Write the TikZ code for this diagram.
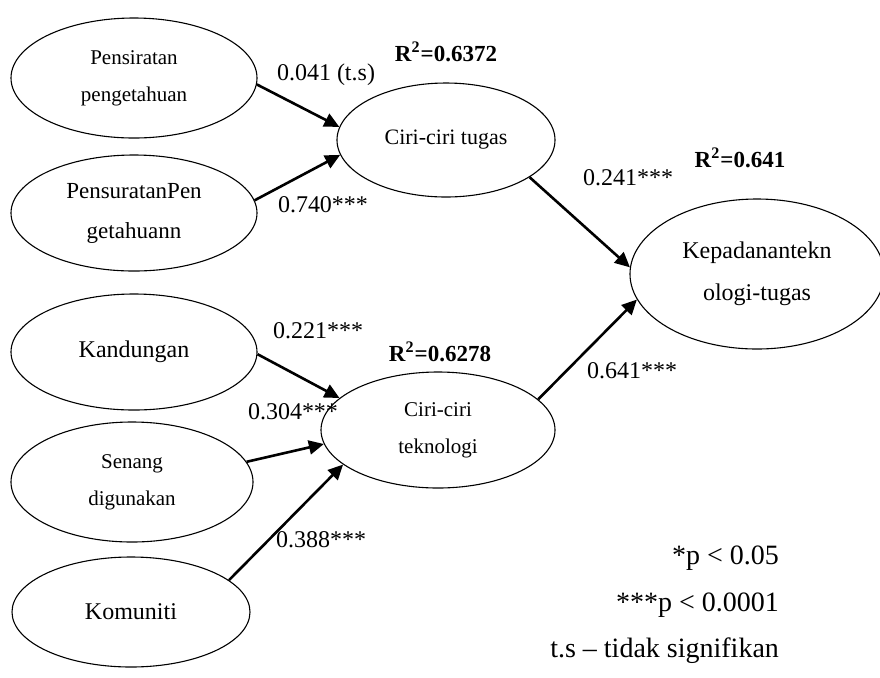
\documentclass[tikz,border=0pt]{standalone}
\usepackage{fontspec}
\setmainfont{Liberation Serif}
\usetikzlibrary{shapes.geometric,arrows.meta}

\begin{document}
\begin{tikzpicture}[x=0.5pt,y=-0.5pt,
    construct/.style={draw,ellipse,inner sep=0pt,align=center,line width=0.55pt},
    small/.style={font=\fontsize{10.5}{18.5}\selectfont},
    large/.style={font=\fontsize{12}{20}\selectfont},
    pathcoef/.style={-{Triangle[length=7.5pt,width=7pt]},line width=1.3pt},
    coef/.style={font=\fontsize{12}{14}\selectfont},
    rsq/.style={font=\bfseries\fontsize{11.5}{14}\selectfont},
    legend/.style={anchor=east,font=\fontsize{14}{16}\selectfont}]
    \useasboundingbox (0,0) rectangle (880,677);
    \begin{scope}
      \node[construct,small,minimum width=123pt,minimum height=60pt] (pensiratan) at (134,78) {Pensiratan\\pengetahuan};
      \node[construct,minimum width=123pt,minimum height=58pt,font=\fontsize{11.5}{20}\selectfont] (pensuratan) at (134,213) {PensuratanPen\\getahuann};
      \node[construct,large,minimum width=123pt,minimum height=58pt] (kandungan) at (134,352) {Kandungan};
      \node[construct,small,minimum width=121pt,minimum height=60pt] (senang) at (132,482) {Senang\\digunakan};
      \node[construct,large,minimum width=119pt,minimum height=55pt] (komuniti) at (131,612) {Komuniti};
    \end{scope}
    \begin{scope}
      \node[construct,font=\fontsize{11}{14}\selectfont,minimum width=109pt,minimum height=57pt] (tugas) at (446,140) {Ciri-ciri tugas};
      \node[construct,small,minimum width=117pt,minimum height=58pt] (teknologi) at (438,430) {Ciri-ciri\\teknologi};
      \node[construct,font=\fontsize{12}{21}\selectfont,minimum width=127pt,minimum height=75pt] (kepadanan) at (757,274) {Kepadanantekn\\ologi-tugas};
    \end{scope}
    \draw[pathcoef] (pensiratan.-3) -- (tugas.173);
    \draw[pathcoef] (pensuratan.6) -- (tugas.-172);
    \draw[pathcoef] (kandungan.-1) -- (teknologi.162);
    \draw[pathcoef] (senang.10) -- (teknologi.-173);
    \draw[pathcoef] (komuniti.18) -- (teknologi.-160);
    \draw[pathcoef] (tugas.-24) -- (kepadanan.177);
    \draw[pathcoef] (teknologi.17) -- (kepadanan.-168);
    \node[coef] (c1) at (326,75) {0.041 (t.s)};
    \node[coef] (c2) at (323,205) {0.740***};
    \node[coef] (c3) at (318,331) {0.221***};
    \node[coef] (c4) at (293,412) {0.304***};
    \node[coef] (c5) at (321,540) {0.388***};
    \node[coef] (c6) at (628,178) {0.241***};
    \node[coef] (c7) at (632,371) {0.641***};
    \node[rsq] (r1) at (446,52) {R\textsuperscript{2}=0.6372};
    \node[rsq] (r2) at (440,352) {R\textsuperscript{2}=0.6278};
    \node[rsq] (r3) at (740,158) {R\textsuperscript{2}=0.641};
    \node[legend] (l1) at (786,558) {*p < 0.05};
    \node[legend] (l2) at (786,605) {***p < 0.0001};
    \node[legend] (l3) at (786,651) {t.s -- tidak signifikan};
  \end{tikzpicture}
\end{document}
